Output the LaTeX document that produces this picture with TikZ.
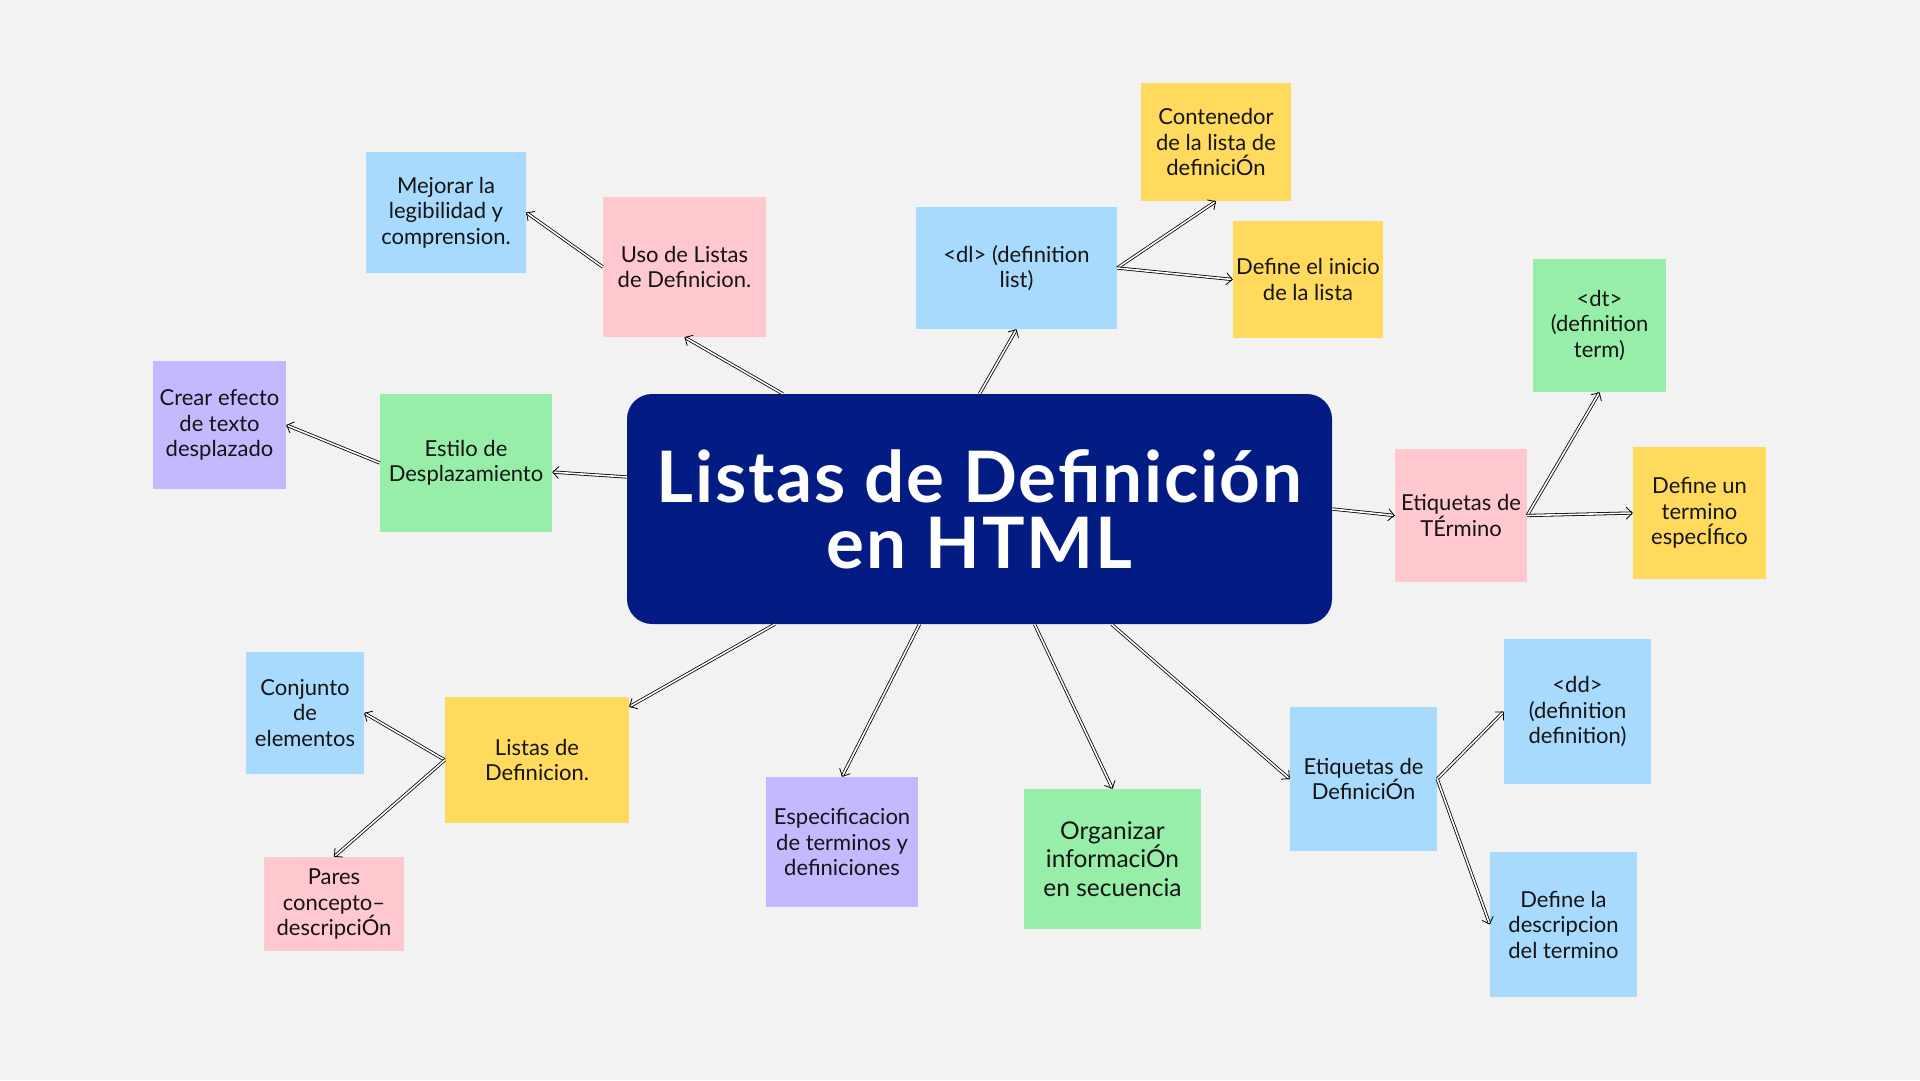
\documentclass[tikz,border=0pt]{standalone}
\usepackage{fontspec}
\setmainfont{Lato}
\newfontfamily\titlefont[LetterSpace=2.5]{Lato}
\usetikzlibrary{arrows.meta,calc}
\definecolor{bg}{HTML}{F2F2F2}
\definecolor{cblue}{HTML}{A8DAFD}
\definecolor{cpink}{HTML}{FFC7CE}
\definecolor{cyellow}{HTML}{FFDA5C}
\definecolor{cgreen}{HTML}{97EEA9}
\definecolor{cpurple}{HTML}{C3B9FE}
\definecolor{cnavy}{HTML}{031C84}
\definecolor{ctext}{HTML}{141414}
\begin{document}
\begin{tikzpicture}[x=1pt,y=-1pt,
  box/.style={rectangle, inner sep=0pt, align=center, text=ctext,
    font=\fontsize{22}{25.5}\selectfont},
  arr/.style={draw=black, line width=0.8pt, double=white, double distance=1.6pt,
    -{Straight Barb[length=6pt,width=12pt]}},
  title/.style={rectangle, rounded corners=25pt, fill=cnavy, text=white, align=center,
    font=\titlefont\fontsize{71}{66}\selectfont\bfseries}]
\fill[bg] (0,0) rectangle (1920,1080);
\useasboundingbox (0,0) rectangle (1920,1080);

% central
\node[title, minimum width=705, minimum height=230] (c) at (979.5,509) {Listas de Definición\\en HTML};

% boxes
\node[box, fill=cblue, minimum width=160, minimum height=121] (mej) at (446,212.5) {Mejorar la\\legibilidad y\\comprension.};
\node[box, fill=cpink, minimum width=163, minimum height=140] (uso) at (684.5,267) {Uso de Listas\\de Definicion.};
\node[box, fill=cblue, minimum width=201, minimum height=122] (dl) at (1016.5,268) {<dl> (definition\\list)};
\node[box, fill=cyellow, minimum width=150, minimum height=118] (cont) at (1216,142) {Contenedor\\de la lista de\\definiciÓn};
\node[box, fill=cyellow, minimum width=150, minimum height=117] (ini) at (1308,279.5) {Define el inicio\\de la lista};
\node[box, fill=cgreen, minimum width=133, minimum height=133] (dt) at (1599.5,325.5) {<dt>\\(definition\\term)};
\node[box, fill=cpink, minimum width=132, minimum height=133] (etT) at (1461,515.5) {Etiquetas de\\TÉrmino};
\node[box, fill=cyellow, minimum width=133, minimum height=132] (defun) at (1699.5,513) {Define un\\termino\\especÍfico};
\node[box, fill=cpurple, minimum width=133, minimum height=128] (crear) at (219.5,425) {Crear efecto\\de texto\\desplazado};
\node[box, fill=cgreen, minimum width=172, minimum height=138] (estilo) at (466,463) {Estilo de\\Desplazamiento};
\node[box, fill=cblue, minimum width=118, minimum height=122] (conj) at (305,713) {Conjunto\\de\\elementos};
\node[box, fill=cyellow, minimum width=184, minimum height=126] (listas) at (537,760) {Listas de\\Definicion.};
\node[box, fill=cpink, minimum width=140, minimum height=94] (pares) at (334,904) {Pares\\concepto–\\descripciÓn};
\node[box, fill=cpurple, minimum width=152, minimum height=130] (esp) at (842,842) {Especificacion\\de terminos y\\definiciones};
\node[box, fill=cgreen, minimum width=177, minimum height=140, font=\fontsize{24.5}{28.5}\selectfont] (org) at (1112.5,859) {Organizar\\informaciÓn\\en secuencia};
\node[box, fill=cblue, minimum width=147, minimum height=144] (etD) at (1363.5,779) {Etiquetas de\\DefiniciÓn};
\node[box, fill=cblue, minimum width=147, minimum height=145] (dd) at (1577.5,711.5) {<dd>\\(definition\\definition)};
\node[box, fill=cblue, minimum width=147, minimum height=145] (defla) at (1563.5,924.5) {Define la\\descripcion\\del termino};

% connectors
\draw[arr] ([xshift=156pt]c.north west) -- (uso.south);
\draw[arr] (uso.west) -- (mej.east);
\draw[arr] (c.north) -- (dl.south);
\draw[arr] (dl.east) -- (cont.south);
\draw[arr] (dl.east) -- (ini.west);
\draw[arr] (c.east) -- (etT.west);
\draw[arr] (etT.east) -- (dt.south);
\draw[arr] (etT.east) -- (defun.west);
\draw[arr] ([yshift=32pt]c.west) -- ([yshift=-9pt]estilo.east);
\draw[arr] (estilo.west) -- (crear.east);
\draw[arr] ([xshift=148pt]c.south west) -- ([yshift=-10pt]listas.north east);
\draw[arr] (listas.west) -- (conj.east);
\draw[arr] (listas.west) -- (pares.north);
\draw[arr] ([xshift=-60pt]c.south) -- (esp.north);
\draw[arr] ([xshift=55pt]c.south) -- (org.north);
\draw[arr] ([xshift=132pt]c.south) -- (etD.west);
\draw[arr] (etD.east) -- (dd.west);
\draw[arr] (etD.east) -- (defla.west);
\end{tikzpicture}
\end{document}
